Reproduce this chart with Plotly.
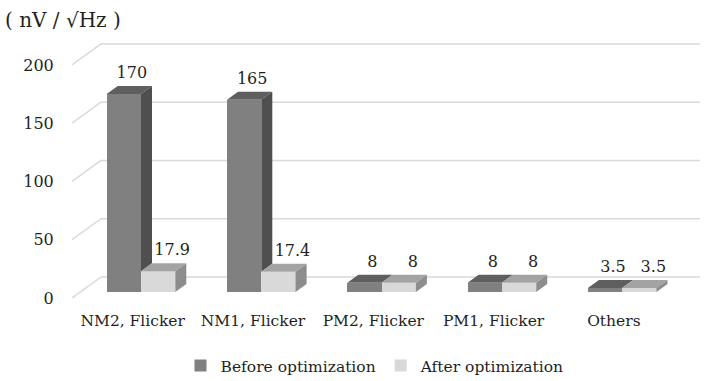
import plotly.graph_objects as go

# ---- data ----
categories = ["NM2, Flicker", "NM1, Flicker", "PM2, Flicker", "PM1, Flicker", "Others"]
before_vals = [170, 165, 8, 8, 3.5]
after_vals = [17.9, 17.4, 8, 8, 3.5]
before_labels = ["170", "165", "8", "8", "3.5"]
after_labels = ["17.9", "17.4", "8", "8", "3.5"]
y_ticks = [0, 50, 100, 150, 200]
series_names = ["Before optimization", "After optimization"]

# ---- layout geometry (pixels -> data units) ----
W, H = 720, 381
ML, MR, MT, MB = 72, 20, 30, 83
plot_w = W - ML - MR
plot_h = H - MT - MB
cat_px = 120.3
x0 = -60.7 / cat_px
x1 = x0 + plot_w / cat_px
y_max = 230
ux = 1.0 / cat_px
uy = y_max / plot_h

FONT = "DejaVu Serif"
TXT = "#1f1f1f"
GRID = "#d9d9d9"

wall_dx, wall_dy = 29, 21
bar_shift_dx, bar_shift_dy = 8.3, 6
bar_dx, bar_dy = 11, 8
bar_w = 34.3

base = bar_shift_dy * uy

colors = {
    "before": dict(front="#808080", top="#5f5f5f", side="#4f4f4f"),
    "after": dict(front="#d9d9d9", top="#a3a3a3", side="#8d8d8d"),
}

fig = go.Figure()

shapes = []
for v in y_ticks:
    shapes.append(dict(type="line", xref="x", yref="y", layer="below",
                       x0=x0, y0=v, x1=x0 + wall_dx * ux, y1=v + wall_dy * uy,
                       line=dict(color=GRID, width=1.5)))
    shapes.append(dict(type="line", xref="x", yref="y", layer="below",
                       x0=x0 + wall_dx * ux, y0=v + wall_dy * uy, x1=x1, y1=v + wall_dy * uy,
                       line=dict(color=GRID, width=1.5)))

idx = list(range(len(categories)))
before_cx = [i + (bar_shift_dx - bar_w / 2) * ux for i in idx]
after_cx = [i + (bar_shift_dx + bar_w / 2) * ux for i in idx]

fig.add_trace(go.Bar(x=before_cx, y=before_vals, base=base, width=bar_w * ux,
                     name=series_names[0], marker=dict(color=colors["before"]["front"], line=dict(width=0)),
                     hoverinfo="skip"))
fig.add_trace(go.Bar(x=after_cx, y=after_vals, base=base, width=bar_w * ux,
                     name=series_names[1], marker=dict(color=colors["after"]["front"], line=dict(width=0)),
                     hoverinfo="skip"))


def faces(centers, vals, side_bottoms):
    tx, ty, sx, sy = [], [], [], []
    ddx, ddy = bar_dx * ux, bar_dy * uy
    for c, v, sb in zip(centers, vals, side_bottoms):
        xl = c - bar_w * ux / 2
        xr = c + bar_w * ux / 2
        yt = base + v
        tx += [xl, xr, xr + ddx, xl + ddx, xl, None]
        ty += [yt, yt, yt + ddy, yt + ddy, yt, None]
        yb = base + sb
        if yb < yt:
            sx += [xr, xr, xr + ddx, xr + ddx, xr, None]
            sy += [yb, yt, yt + ddy, yb + ddy, yb, None]
    return tx, ty, sx, sy


b_side_bottom = [min(a, b) for a, b in zip(after_vals, before_vals)]
a_side_bottom = [0] * len(after_vals)

for key, cx, vals, sb in [("before", before_cx, before_vals, b_side_bottom),
                          ("after", after_cx, after_vals, a_side_bottom)]:
    tx, ty, sx, sy = faces(cx, vals, sb)
    fig.add_trace(go.Scatter(x=tx, y=ty, fill="toself", mode="lines", line=dict(width=0, color=colors[key]["top"]),
                             fillcolor=colors[key]["top"], showlegend=False, hoverinfo="skip"))
    if sx:
        fig.add_trace(go.Scatter(x=sx, y=sy, fill="toself", mode="lines", line=dict(width=0, color=colors[key]["side"]),
                                 fillcolor=colors[key]["side"], showlegend=False, hoverinfo="skip"))

lab_up = 12
fig.add_trace(go.Scatter(x=[c + 8 * ux for c in before_cx],
                         y=[base + v + (bar_dy + lab_up) * uy for v in before_vals],
                         text=before_labels, mode="text", textposition="middle center",
                         textfont=dict(family=FONT, size=16, color=TXT), showlegend=False, hoverinfo="skip"))
fig.add_trace(go.Scatter(x=[c + 14 * ux for c in after_cx],
                         y=[base + v + (bar_dy + lab_up) * uy for v in after_vals],
                         text=after_labels, mode="text", textposition="middle center",
                         textfont=dict(family=FONT, size=16, color=TXT), showlegend=False, hoverinfo="skip"))

fig.update_layout(
    width=W, height=H, autosize=False,
    margin=dict(l=ML, r=MR, t=MT, b=MB, pad=0, autoexpand=False),
    paper_bgcolor="white", plot_bgcolor="white",
    barmode="overlay", bargap=0,
    font=dict(family=FONT, size=16, color=TXT),
    shapes=shapes,
    title=dict(text="( nV / √Hz )", x=5 / W, xanchor="left", xref="container",
               y=1 - 20 / H, yanchor="middle", yref="container",
               font=dict(family=FONT, size=20, color=TXT)),
    legend=dict(orientation="h", x=375 / W, xanchor="center", xref="container",
                y=1 - 366 / H, yanchor="middle", yref="container",
                font=dict(family=FONT, size=15.5, color=TXT), bgcolor="rgba(0,0,0,0)",
                traceorder="normal"),
    xaxis=dict(range=[x0, x1], tickvals=idx, ticktext=categories, showgrid=False, zeroline=False,
               showline=False, ticks="outside", ticklen=8, tickcolor="rgba(0,0,0,0)", automargin=False,
               tickfont=dict(family=FONT, size=15.5, color=TXT), fixedrange=True),
    yaxis=dict(range=[0, y_max], tickvals=y_ticks, showgrid=False, zeroline=False, showline=False,
               ticks="outside", ticklen=14, tickcolor="rgba(0,0,0,0)", automargin=False,
               tickfont=dict(family=FONT, size=16, color=TXT), fixedrange=True),
)

fig.write_html("out.html", config={"displayModeBar": False},
               post_script="document.body.style.margin='0px';")
